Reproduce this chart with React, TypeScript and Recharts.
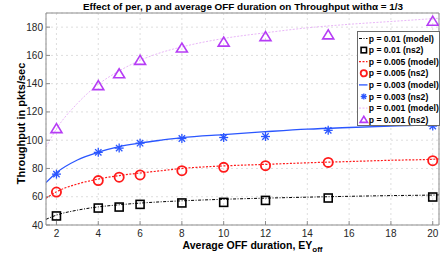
import React from 'react';
import { LineChart, Line, XAxis, YAxis, CartesianGrid, Legend } from 'recharts';

// ns2 simulation points
const nsX = [2, 4, 5, 6, 8, 10, 12, 15, 20];
const ns2P01 = [46.4, 52, 52.7, 54.6, 55.6, 56, 57.4, 59.1, 59.8];
const ns2P005 = [63.3, 71.4, 73.8, 75.4, 78.4, 80.8, 82, 84.3, 85.5];
const ns2P003 = [76, 91.4, 94.4, 97.9, 101.2, 101.9, 102.6, 107, 110];
const ns2P001 = [108.2, 138.6, 147, 156.5, 165.2, 169.4, 173.3, 174.5, 184.2];

// model curves
const modelX = [1.5, 2, 3, 4, 5, 6, 7, 8, 10, 12, 14, 16, 18, 20, 20.3];
const modelP01 = [44, 47, 50.5, 52.8, 54.3, 55.5, 56.4, 57.1, 58.2, 59, 59.7, 60.3, 60.8, 61.2, 61.3];
const modelP005 = [59, 63.5, 69, 72.5, 75, 76.8, 78.4, 80, 81.8, 82.9, 84, 84.9, 85.8, 86.5, 86.7];
const modelP003 = [70, 77, 86, 91.5, 95.5, 98, 100, 101.8, 104, 106, 107.8, 109, 110, 110.8, 111];
const modelP001 = [95, 108, 126, 139.5, 149, 156.5, 162, 166, 172, 176, 179.5, 182, 184, 186, 186.3];

const xTicks = [2, 4, 6, 8, 10, 12, 14, 16, 18, 20];
const yTicks = [40, 60, 80, 100, 120, 140, 160, 180];

const legendLabels = [
  'p = 0.01 (model)',
  'p = 0.01 (ns2)',
  'p = 0.005 (model)',
  'p = 0.005 (ns2)',
  'p = 0.003 (model)',
  'p = 0.003 (ns2)',
  'p = 0.001 (model)',
  'p = 0.001 (ns2)',
];

const toPts = (xs: number[], ys: number[]) => xs.map((x, i) => ({ x, y: ys[i] }));

const C_BLACK = '#000000';
const C_RED = '#ff1a1a';
const C_BLUE = '#2a56ff';
const C_PURPLE = '#b63cf5';
const C_PINK = '#e9b6f8';

const FONT = '"Liberation Sans", Arial, Helvetica, sans-serif';

type MarkerFn = (cx: number, cy: number, k?: any, s?: number) => React.ReactElement;

const square: MarkerFn = (cx, cy, k, s = 1) => (
  <rect key={k} x={cx - 4 * s} y={cy - 4 * s} width={8 * s} height={8 * s} fill="none" stroke={C_BLACK} strokeWidth={1.6} />
);
const circle: MarkerFn = (cx, cy, k, s = 1) => (
  <circle key={k} cx={cx} cy={cy} r={4.6 * s} fill="none" stroke={C_RED} strokeWidth={1.8} />
);
const star: MarkerFn = (cx, cy, k, s = 1) => (
  <g key={k} stroke={C_BLUE} strokeWidth={1.3}>
    <line x1={cx - 4.5 * s} y1={cy} x2={cx + 4.5 * s} y2={cy} />
    <line x1={cx} y1={cy - 4.5 * s} x2={cx} y2={cy + 4.5 * s} />
    <line x1={cx - 3.2 * s} y1={cy - 3.2 * s} x2={cx + 3.2 * s} y2={cy + 3.2 * s} />
    <line x1={cx - 3.2 * s} y1={cy + 3.2 * s} x2={cx + 3.2 * s} y2={cy - 3.2 * s} />
  </g>
);
const triangle: MarkerFn = (cx, cy, k, s = 1) => (
  <polygon
    key={k}
    points={`${cx},${cy - 5 * s} ${cx - 5.5 * s},${cy + 4 * s} ${cx + 5.5 * s},${cy + 4 * s}`}
    fill="none"
    stroke={C_PURPLE}
    strokeWidth={1.6}
  />
);

const mkDot = (fn: MarkerFn) => (props: any) => {
  const { cx, cy, index } = props;
  if (cx == null || cy == null) return <g key={`e${index}`} />;
  return fn(cx, cy, `d${index}`);
};

const legendRows: { kind: 'line' | 'marker'; color: string; dash?: string; width?: number; marker?: MarkerFn }[] = [
  { kind: 'line', color: C_BLACK, dash: '3 1.5 1 1.5', width: 1 },
  { kind: 'marker', color: C_BLACK, marker: square },
  { kind: 'line', color: C_RED, dash: '2 1.5', width: 1.2 },
  { kind: 'marker', color: C_RED, marker: circle },
  { kind: 'line', color: C_BLUE, width: 1.3 },
  { kind: 'marker', color: C_BLUE, marker: star },
  { kind: 'line', color: C_PINK, dash: '2 1.5', width: 1 },
  { kind: 'marker', color: C_PURPLE, marker: triangle },
];

const LegendBox = () => (
  <svg width={83} height={95} style={{ display: 'block' }}>
    <rect x={0.5} y={0.5} width={82} height={94} fill="#fff" stroke="#6a6a6a" strokeWidth={1} />
    {legendRows.map((r, i) => {
      const cy = 7.5 + i * 11.6;
      return (
        <g key={i}>
          {r.kind === 'line' ? (
            <line x1={2} x2={10.5} y1={cy} y2={cy} stroke={r.color} strokeWidth={r.width} strokeDasharray={r.dash} />
          ) : (
            r.marker!(6.8, cy, undefined, 0.68)
          )}
          <text x={11.8} y={cy + 3.1} fontFamily={FONT} fontSize={8.6} fontWeight="bold" fill="#000">
            {legendLabels[i]}
          </text>
        </g>
      );
    })}
  </svg>
);

const XLabel = (props: any) => {
  const vb = props.viewBox || { x: 46, y: 225, width: 393, height: 32 };
  return (
    <text
      x={vb.x + vb.width / 2 + 10}
      y={vb.y + 23.5}
      textAnchor="middle"
      fontFamily={FONT}
      fontSize={10.5}
      fontWeight="bold"
      fill="#000"
    >
      Average OFF duration, EY
      <tspan fontSize={8} dy={3}>off</tspan>
    </text>
  );
};

const YLabel = (props: any) => {
  const vb = props.viewBox || { x: 0, y: 13, width: 46, height: 212 };
  const cx = vb.x + 20.5;
  const cy = vb.y + vb.height / 2 + 4.5;
  return (
    <text
      x={cx}
      y={cy}
      transform={`rotate(-90 ${cx} ${cy})`}
      textAnchor="middle"
      dominantBaseline="central"
      fontFamily={FONT}
      fontSize={11}
      fontWeight="bold"
      fill="#000"
    >
      Throughput in pkts/sec
    </text>
  );
};

export default function App() {
  const tickStyle = { fontFamily: FONT, fontSize: 10, fill: '#262626' };
  return (
    <div style={{ position: 'absolute', left: 0, top: 0, width: 444, height: 257, background: '#fff' }}>
      <div
        style={{
          position: 'absolute',
          left: 0,
          top: 0,
          width: 444,
          textAlign: 'center',
          paddingLeft: 42,
          boxSizing: 'border-box',
          fontFamily: FONT,
          fontSize: 9.9,
          fontWeight: 'bold',
          lineHeight: '13px',
          color: '#000',
          zIndex: 2,
        }}
      >
        Effect of per, p and average OFF duration on Throughput with&alpha; = 1/3
      </div>
      <LineChart width={444} height={257} margin={{ top: 13, right: 5, left: 0, bottom: 0 }}>
        <CartesianGrid stroke="#dedede" strokeDasharray="2 3" strokeWidth={1} />
        <XAxis
          dataKey="x"
          type="number"
          domain={[1.5, 20.3]}
          ticks={xTicks}
          allowDataOverflow
          height={32}
          tick={tickStyle}
          tickSize={-4}
          tickMargin={9}
          tickLine={{ stroke: '#8c8c8c' }}
          axisLine={{ stroke: '#8c8c8c' }}
          label={<XLabel />}
        />
        <XAxis
          xAxisId="top"
          orientation="top"
          mirror
          dataKey="x"
          type="number"
          domain={[1.5, 20.3]}
          ticks={xTicks}
          allowDataOverflow
          height={1}
          tick={false}
          tickSize={4}
          tickLine={{ stroke: '#8c8c8c' }}
          axisLine={{ stroke: '#8c8c8c' }}
        />
        <YAxis
          type="number"
          domain={[40, 190]}
          ticks={yTicks}
          allowDataOverflow
          width={46}
          tick={tickStyle}
          tickSize={-4}
          tickMargin={7}
          tickLine={{ stroke: '#8c8c8c' }}
          axisLine={{ stroke: '#8c8c8c' }}
          label={<YLabel />}
        />
        <YAxis
          yAxisId="right"
          orientation="right"
          mirror
          type="number"
          domain={[40, 190]}
          ticks={yTicks}
          allowDataOverflow
          width={1}
          tick={false}
          tickSize={4}
          tickLine={{ stroke: '#8c8c8c' }}
          axisLine={{ stroke: '#8c8c8c' }}
        />
        <Line data={toPts(modelX, modelP001)} dataKey="y" type="monotone" stroke={C_PINK} strokeWidth={1} strokeDasharray="2 1.5" dot={false} activeDot={false} isAnimationActive={false} />
        <Line data={toPts(modelX, modelP003)} dataKey="y" type="monotone" stroke={C_BLUE} strokeWidth={1.3} dot={false} activeDot={false} isAnimationActive={false} />
        <Line data={toPts(modelX, modelP005)} dataKey="y" type="monotone" stroke={C_RED} strokeWidth={1.2} strokeDasharray="2 1.5" dot={false} activeDot={false} isAnimationActive={false} />
        <Line data={toPts(modelX, modelP01)} dataKey="y" type="monotone" stroke={C_BLACK} strokeWidth={1} strokeDasharray="3 1.5 1 1.5" dot={false} activeDot={false} isAnimationActive={false} />
        <Line data={toPts(nsX, ns2P01)} dataKey="y" stroke="none" dot={mkDot(square)} activeDot={false} isAnimationActive={false} />
        <Line data={toPts(nsX, ns2P005)} dataKey="y" stroke="none" dot={mkDot(circle)} activeDot={false} isAnimationActive={false} />
        <Line data={toPts(nsX, ns2P003)} dataKey="y" stroke="none" dot={mkDot(star)} activeDot={false} isAnimationActive={false} />
        <Line data={toPts(nsX, ns2P001)} dataKey="y" stroke="none" dot={mkDot(triangle)} activeDot={false} isAnimationActive={false} />
        <Legend
          layout="vertical"
          align="center"
          verticalAlign="middle"
          wrapperStyle={{ position: 'absolute', left: 357, top: 31, width: 83, height: 95 }}
          content={() => <LegendBox />}
        />
      </LineChart>
    </div>
  );
}
